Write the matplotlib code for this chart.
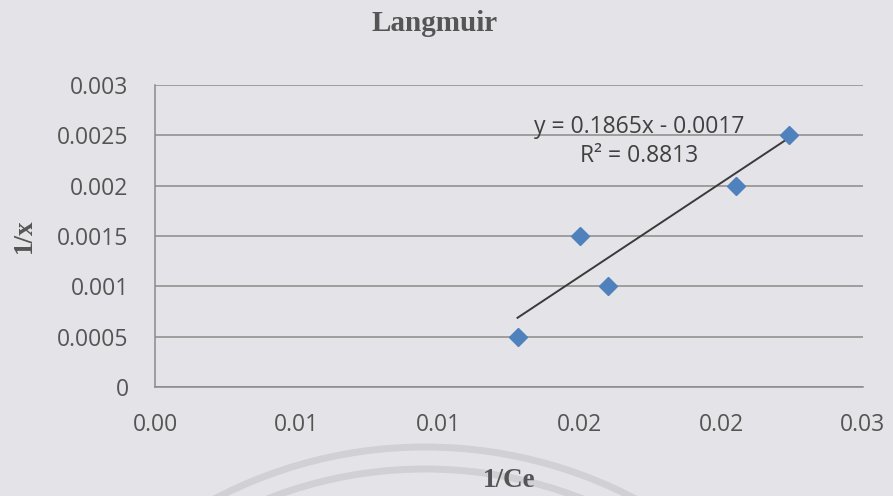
import matplotlib

matplotlib.use("Agg")
import matplotlib.pyplot as plt
import numpy as np
from matplotlib.patches import Arc

# data (Langmuir linearisation)
inv_ce = [0.0128, 0.0150, 0.0160, 0.0205, 0.0224]
inv_x = [0.0005, 0.0015, 0.0010, 0.0020, 0.0025]
slope = 0.1865
intercept = -0.0017
r_squared = 0.8813

x_ticks = [0.0, 0.005, 0.010, 0.015, 0.020, 0.025]
x_tick_labels = ["0.00", "0.01", "0.01", "0.02", "0.02", "0.03"]
y_ticks = [0.0, 0.0005, 0.001, 0.0015, 0.002, 0.0025, 0.003]
y_tick_labels = ["0", "0.0005", "0.001", "0.0015", "0.002", "0.0025", "0.003"]

bg = "#e4e4e8"
text_grey = "#555555"
serif = ["Liberation Serif", "DejaVu Serif"]
sans = ["Open Sans", "DejaVu Sans"]

fig = plt.figure(figsize=(8.93, 4.96), dpi=100, facecolor=bg)

# faint stamp arcs showing through the scanned page
for diam in (2 * 453, 2 * 431):
    fig.add_artist(Arc((425 / 893, 1 - 900 / 496), diam / 893, diam / 496,
                       theta1=40, theta2=140, transform=fig.transFigure,
                       color="#d0d0d5", linewidth=5, zorder=-1))

ax = fig.add_axes([0.1736, 0.2198, 0.7928, 0.6088])
ax.set_facecolor(bg)

ax.set_xlim(0, 0.025)
ax.set_ylim(0, 0.003)
ax.set_xticks(x_ticks)
ax.set_xticklabels(x_tick_labels, family=sans, fontsize=16.5, color=text_grey)
ax.set_yticks(y_ticks)
ax.set_yticklabels(y_tick_labels, family=sans, fontsize=16.5, color=text_grey)
ax.tick_params(axis="both", length=0)
ax.tick_params(axis="y", pad=19)
ax.tick_params(axis="x", pad=19)

ax.grid(axis="y", color="#8a8a8a", linewidth=1.1)
ax.set_axisbelow(True)
for side in ("top", "right"):
    ax.spines[side].set_visible(False)
for side in ("left", "bottom"):
    ax.spines[side].set_color("#8a8a8a")
    ax.spines[side].set_linewidth(1.1)

# trendline over the data range
xs = np.array([min(inv_ce), max(inv_ce)])
ax.plot(xs, slope * xs + intercept, color="#3a3a3a", linewidth=1.4, zorder=3)
ax.plot(inv_ce, inv_x, linestyle="none", marker="D", markersize=9,
        color="#4f81bd", markeredgecolor="#4f81bd", zorder=4)

ax.text(0.0171, 0.00246, f"y = {slope}x - {abs(intercept)}", family=sans,
        fontsize=16.5, color="#404040", ha="center", va="bottom")
ax.text(0.0171, 0.00229, f"R\u00b2 = {r_squared}", family=sans,
        fontsize=16.5, color="#404040", ha="center", va="center")

fig.text(0.487, 0.952, "Langmuir", family=serif, fontweight="bold",
         fontsize=21, color="#555555", ha="center", va="center")
ax.set_xlabel("1/Ce", family=serif, fontweight="bold", fontsize=19.5, color="#555555")
ax.xaxis.set_label_coords(0.5, -0.31)
ax.xaxis.label.set_va("center")
ax.set_ylabel("1/x", family=serif, fontweight="bold", fontsize=19.5, color="#555555")
ax.yaxis.set_label_coords(-0.184, 0.5)
ax.yaxis.label.set_va("center")

fig.savefig("out.png", dpi=100, facecolor=bg)
